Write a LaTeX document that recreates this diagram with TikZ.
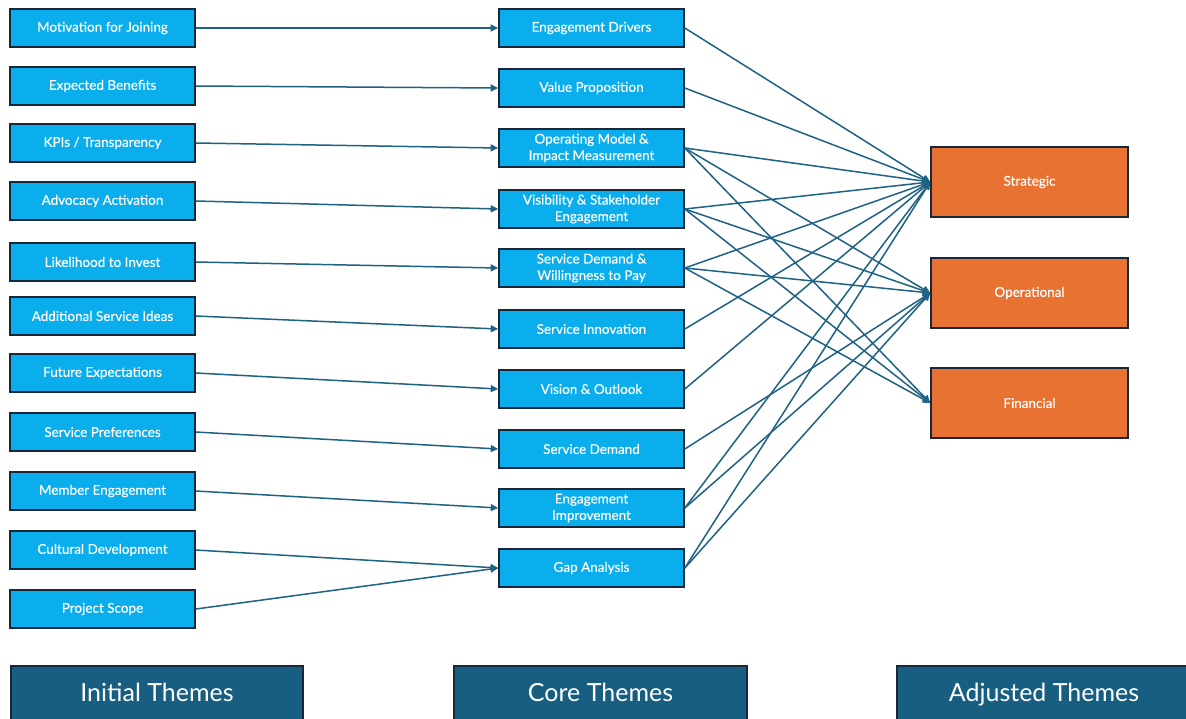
\documentclass[tikz,border=0pt]{standalone}
\usepackage{fontspec}
\setmainfont{Lato}[BoldFont=Lato,BoldFeatures={FakeBold=0.35}]
\usetikzlibrary{arrows.meta}
\definecolor{boxblue}{RGB}{10,174,236}
\definecolor{boxedge}{RGB}{24,40,58}
\definecolor{boxorange}{RGB}{232,114,50}
\definecolor{conn}{RGB}{30,98,132}
\definecolor{titleteal}{RGB}{24,94,128}
\begin{document}
\begin{tikzpicture}[x=1pt,y=-1pt,
  bluebox/.style={draw=boxedge,line width=1.6pt,fill=boxblue,text=white,minimum width=185pt,minimum height=38pt,inner sep=0pt,align=center,font=\fontsize{13.5}{16.5}\selectfont\bfseries},
  orangebox/.style={draw=boxedge,line width=1.6pt,fill=boxorange,text=white,minimum width=197pt,minimum height=70pt,inner sep=0pt,font=\fontsize{13.5}{15}\selectfont\bfseries},
  titlebox/.style={draw=boxedge,line width=1.2pt,fill=titleteal,text=white,minimum width=292pt,minimum height=58pt,inner sep=0pt,text height=18pt,text depth=5pt,font=\fontsize{25}{27}\selectfont},
  link/.style={draw=conn,line width=1.5pt,-{Triangle[length=7.5pt,width=7pt]}}]
\useasboundingbox (0,0) rectangle (1186,718);
\fill[white] (0,0) rectangle (1186,718);
% left column
\node[bluebox] (l1) at (102.5,28) {Motivation for Joining};
\node[bluebox] (l2) at (102.5,86) {Expected Benefits};
\node[bluebox] (l3) at (102.5,143) {KPIs / Transparency};
\node[bluebox] (l4) at (102.5,201) {Advocacy Activation};
\node[bluebox] (l5) at (102.5,262) {Likelihood to Invest};
\node[bluebox] (l6) at (102.5,316) {Additional Service Ideas};
\node[bluebox] (l7) at (102.5,373) {Future Expectations};
\node[bluebox] (l8) at (102.5,432) {Service Preferences};
\node[bluebox] (l9) at (102.5,491) {Member Engagement};
\node[bluebox] (l10) at (102.5,550) {Cultural Development};
\node[bluebox] (l11) at (102.5,609) {Project Scope};
% middle column
\node[bluebox] (m1) at (591.5,28) {Engagement Drivers};
\node[bluebox] (m2) at (591.5,88) {Value Proposition};
\node[bluebox] (m3) at (591.5,148) {Operating Model \&\\Impact Measurement};
\node[bluebox] (m4) at (591.5,209) {Visibility \& Stakeholder\\Engagement};
\node[bluebox] (m5) at (591.5,268) {Service Demand \&\\Willingness to Pay};
\node[bluebox] (m6) at (591.5,329) {Service Innovation};
\node[bluebox] (m7) at (591.5,389) {Vision \& Outlook};
\node[bluebox] (m8) at (591.5,449) {Service Demand};
\node[bluebox] (m9) at (591.5,508) {Engagement\\Improvement};
\node[bluebox] (m10) at (591.5,568) {Gap Analysis};
% right column
\node[orangebox] (s) at (1029.5,182) {Strategic};
\node[orangebox] (o) at (1029.5,293) {Operational};
\node[orangebox] (f) at (1029.5,403) {Financial};
% titles
\node[titlebox] (t1) at (157,695) {Initial Themes};
\node[titlebox,minimum width=293pt] (t2) at (600.5,695) {Core Themes};
\node[titlebox,minimum width=294pt] (t3) at (1044,695) {Adjusted Themes};
% left to middle
\draw[link] (l1.east) -- (m1.west);
\draw[link] (l2.east) -- (m2.west);
\draw[link] (l3.east) -- (m3.west);
\draw[link] (l4.east) -- (m4.west);
\draw[link] (l5.east) -- (m5.west);
\draw[link] (l6.east) -- (m6.west);
\draw[link] (l7.east) -- (m7.west);
\draw[link] (l8.east) -- (m8.west);
\draw[link] (l9.east) -- (m9.west);
\draw[link] (l10.east) -- (m10.west);
\draw[link] (l11.east) -- (m10.west);
% middle to right
\foreach \m in {m1,m2,m3,m4,m5,m6,m7,m9,m10} {\draw[link] (\m.east) -- (s.west);}
\foreach \m in {m3,m4,m5,m8,m9,m10} {\draw[link] (\m.east) -- (o.west);}
\foreach \m in {m3,m4,m5} {\draw[link] (\m.east) -- (f.west);}
\end{tikzpicture}
\end{document}
